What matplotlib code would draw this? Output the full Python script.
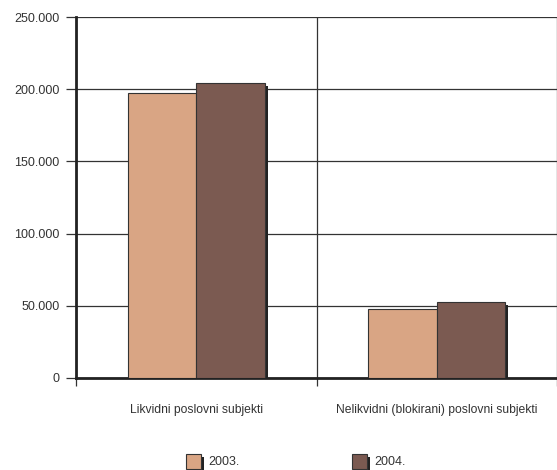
import matplotlib
matplotlib.use("Agg")
import matplotlib.pyplot as plt
import matplotlib.patheffects as pe
from matplotlib.patches import Rectangle
from matplotlib.ticker import FuncFormatter
import numpy as np

categories = ["Likvidni poslovni subjekti", "Nelikvidni (blokirani) poslovni subjekti"]
years = ["2003.", "2004."]
values_2003 = [197600, 47600]
values_2004 = [204100, 52600]
colors = ["#D9A584", "#7B5A51"]

plt.rcParams['font.family'] = ['Liberation Sans', 'DejaVu Sans']

W, H = 557, 470
fig = plt.figure(figsize=(W / 100, H / 100), dpi=100)
ax = fig.add_axes([76/W, 1 - 378/H, 1 - 76/W, 361/H])

centers = np.arange(len(categories)) + 0.5
w = 0.2857
shadow = [pe.SimplePatchShadow(offset=(2, -2), shadow_rgbFace="#222222", alpha=1.0), pe.Normal()]
for i, (vals, c, lab) in enumerate(zip([values_2003, values_2004], colors, years)):
    bars = ax.bar(centers + (i - 0.5) * w, vals, width=w, color=c, edgecolor="#333333",
                  linewidth=0.8, label=lab, zorder=3)
    for b in bars:
        b.set_path_effects(shadow)

ax.set_xlim(0, (W - 76) / 245)
ax.set_ylim(0, 250000)
ax.set_yticks(np.arange(0, 250001, 50000))
ax.yaxis.set_major_formatter(FuncFormatter(lambda v, p: "0" if v == 0 else f"{int(v):,}".replace(",", ".")))
ax.set_xticks([0, 1, 2])
ax.set_xticklabels([])
ax.grid(axis="y", color="#333333", linewidth=0.9, zorder=0)
ax.grid(axis="x", color="#333333", linewidth=0.9, zorder=0)
for s in ["top", "right"]:
    ax.spines[s].set_visible(False)
for s in ["left", "bottom"]:
    ax.spines[s].set_linewidth(2)
    ax.spines[s].set_color("#222222")
ax.tick_params(axis="y", length=7, width=0.9, color="#333333", labelsize=9, pad=5, labelcolor="#333333")
ax.tick_params(axis="x", length=6, width=0.9, color="#333333")

for cx, lab in zip(centers, categories):
    ax.text(cx, -0.089, lab, transform=ax.get_xaxis_transform(), ha="center", va="center",
            fontsize=8.7, color="#333333")

# legend drawn by hand so the squares sit where the reference has them
for x0, c, lab in zip([186, 352], colors, years):
    sq = Rectangle((x0 / W, 1 - 469 / H), 15 / W, 15 / H, transform=fig.transFigure,
                   facecolor=c, edgecolor="#333333", linewidth=0.8)
    sq.set_path_effects(shadow)
    fig.patches.append(sq)
    fig.text((x0 + 22) / W, 1 - 462 / H, lab, ha="left", va="center", fontsize=9, color="#333333")

fig.savefig("out.png", dpi=100)
